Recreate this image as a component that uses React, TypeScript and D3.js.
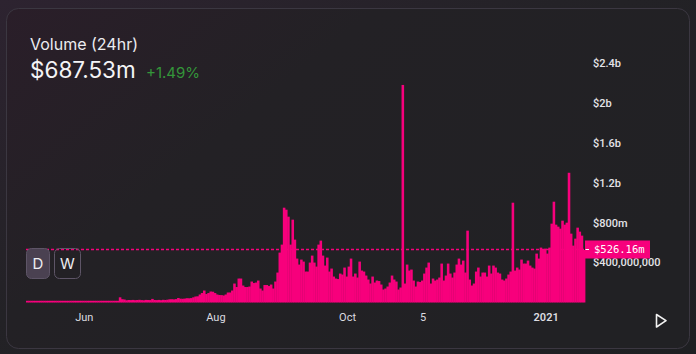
import React from "react";
import * as d3 from "d3";

const width = 696;
const height = 354;

const startDay = new Date(2020, 4, 5);
const endDay = new Date(2021, 0, 19);

// daily volume in $m, one value per day from May 5 2020
const earlyVolumes = [
  7, 6, 8, 6, 7, 5, 6, 8, 7, 6, 9, 7, 6, 5, 7, 8, 6, 7, 6, 8, 7, 9, 6, 7, 8, 6, 7, 5, 8, 7,
  6, 9, 7, 8, 6, 7, 9, 8, 7, 8, 10, 9, 8,
];
const summerVolumes = [
  52, 33, 30, 22, 25, 24, 26, 23, 25, 27, 24, 22, 26, 25, 24, 36, 25, 24, 26, 23, 27, 25, 28,
  32, 33, 31, 34, 45, 38, 37, 39, 43, 42, 44, 52,
];
const augSepVolumes = [
  60, 62, 80, 95, 120, 85, 95, 110, 108, 95, 80, 75, 74, 70, 80, 100, 100, 120, 190, 155, 240,
  240, 170, 155, 155, 160, 210, 195, 200, 220, 140, 120, 175, 175, 165, 180, 140, 210, 300, 500,
  580, 950, 930, 860, 580, 830, 630, 440, 380, 430, 410, 310, 310, 400, 470, 400, 360, 580, 620,
  470, 370, 450, 310, 340, 260,
];
const autumnVolumes = [
  240, 235, 290, 280, 350, 260, 360, 440, 260, 290, 250, 410, 320, 310, 270, 230, 190, 260, 200,
  220, 215, 180, 130, 140, 160, 200, 270, 230, 210, 130, 150, 2180, 190, 380, 320, 330, 220, 160,
  210, 205, 220, 290, 350, 400, 190, 240, 220, 230, 250, 390, 220, 270, 390, 290, 250, 300, 380,
  440, 380, 420, 300,
];
const winterVolumes = [
  720, 230, 170, 190, 310, 350, 260, 300, 300, 260, 370, 290, 370, 350, 300, 290, 230, 220, 240,
  280, 310, 1000, 320, 350, 330, 430, 390, 390, 420, 370, 350, 340, 490, 440, 550, 530, 540, 490,
  550, 790, 1010, 780, 760, 740, 820, 780, 800, 1300, 690, 570, 640, 750, 710, 670, 526.16,
];

const volumes = [...earlyVolumes, ...summerVolumes, ...augSepVolumes, ...autumnVolumes, ...winterVolumes];

const yTicks = [400, 800, 1200, 1600, 2000, 2400];
const yTickLabels = ["$400,000,000", "$800m", "$1.2b", "$1.6b", "$2b", "$2.4b"];
const xTickDates = [
  new Date(2020, 5, 1),
  new Date(2020, 7, 1),
  new Date(2020, 9, 1),
  new Date(2020, 10, 5),
  new Date(2021, 0, 1),
];
const xTickLabels = ["Jun", "Aug", "Oct", "5", "2021"];

const currentLabel = "$526.16m";
const headline = "$687.53m";
const change = "+1.49%";

const pink = "#f7007c";

const App = () => {
  const days = d3.timeDay.range(startDay, endDay);
  const x = d3.scaleTime().domain([startDay, endDay]).range([26, 585]);
  const y = d3.scaleLinear().domain([0, 2400]).range([302.5, 63]);
  const last = volumes[volumes.length - 1];
  const lastY = Math.round(y(last)) - 0.5;

  return (
    <div style={{ position: "fixed", left: 0, top: 0, width, height }}>
      <svg width={width} height={height} style={{ display: "block" }}>
        <defs>
          <linearGradient id="bg" x1="0" y1="0" x2="1" y2="1">
            <stop offset="0%" stopColor="#2d2330" />
            <stop offset="45%" stopColor="#232226" />
            <stop offset="100%" stopColor="#1e1f22" />
          </linearGradient>
          <linearGradient id="card" x1="0" y1="0" x2="1" y2="0.6">
            <stop offset="0%" stopColor="#2a1e29" />
            <stop offset="40%" stopColor="#232125" />
            <stop offset="100%" stopColor="#212124" />
          </linearGradient>
        </defs>
        <rect width={width} height={height} fill="url(#bg)" />
        <rect x={6.5} y={8.5} width={683} height={340} rx={12} fill="url(#card)" stroke="#3b3741" />

        <g fontFamily="Inter, sans-serif">
          <text x={30} y={50} fontSize={16} fill="#ececf0">Volume (24hr)</text>
          <text x={30} y={78} fontSize={22.5} fill="#f4f4f6">{headline}</text>
          <text x={146} y={78} fontSize={15} fill="#34963a">{change}</text>
        </g>

        {/* bars */}
        <g>
          {days.map((d, i) => {
            const v = volumes[i] ?? 0;
            const x0 = x(d);
            const x1 = x(d3.timeDay.offset(d, 1));
            const top = Math.min(y(v), 300.8);
            return (
              <rect key={i} x={x0} y={top} width={x1 - x0 + 0.4} height={302.5 - top} fill={pink} />
            );
          })}
        </g>

        {/* current value line */}
        <line x1={26} x2={585} y1={lastY} y2={lastY} stroke={pink} strokeWidth={1.3} strokeDasharray="3,2" />

        {/* y axis */}
        <g fontFamily="Roboto, sans-serif" fontSize={11} fontWeight={500} fill="#e4e4e8">
          {yTicks.map((t, i) => (
            <text key={t} x={593} y={y(t)} dy="0.35em">{yTickLabels[i]}</text>
          ))}
        </g>

        <rect x={585} y={lastY - 9} width={65} height={18} fill={pink} />
        <line x1={585.5} x2={589} y1={lastY} y2={lastY} stroke="#ffffff" />
        <text x={594} y={lastY} dy="0.36em" fontFamily="DejaVu Sans Mono, monospace" fontSize={10.5} fill="#ffffff">
          {currentLabel}
        </text>

        {/* x axis */}
        <g fontFamily="Roboto, sans-serif" fontSize={11} fill="#dcdce0" textAnchor="middle">
          {xTickDates.map((d, i) => (
            <text key={i} x={x(d)} y={321} fontWeight={xTickLabels[i] === "2021" ? 600 : 400}>
              {xTickLabels[i]}
            </text>
          ))}
        </g>

        {/* D / W toggle */}
        <g fontFamily="Inter, sans-serif" fontSize={15} fill="#eeeef2" textAnchor="middle">
          <rect x={26.5} y={248.5} width={23} height={30} rx={5} fill="#4a4151" stroke="#5e5567" />
          <text x={38} y={263.5} dy="0.36em">D</text>
          <rect x={54.5} y={248.5} width={26} height={30} rx={5} fill="none" stroke="#5e5567" />
          <text x={67.5} y={263.5} dy="0.36em">W</text>
        </g>

        <path d="M656.5,314.5 L666,320.7 L656.5,327 Z" fill="none" stroke="#f2f2f2" strokeWidth={1.6} strokeLinejoin="round" />
      </svg>
    </div>
  );
};

export default App;
